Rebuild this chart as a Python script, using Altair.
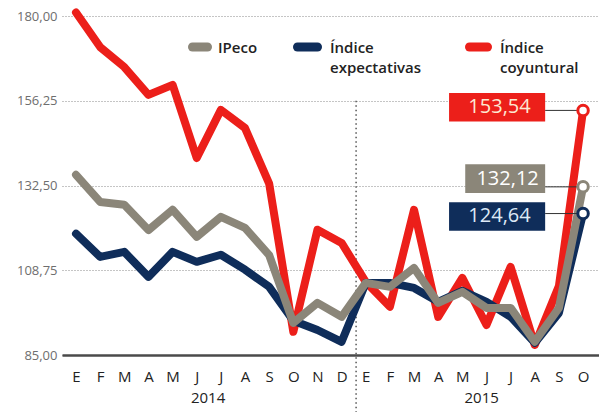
import altair as alt
import pandas as pd

months = ["E", "F", "M", "A", "M", "J", "J", "A", "S", "O", "N", "D",
          "E", "F", "M", "A", "M", "J", "J", "A", "S", "O"]
ipeco = [135.5, 127.9, 127.1, 120.0, 125.7, 118.1, 123.7, 120.6, 113.0, 94.0, 99.6, 95.7,
         105.2, 104.1, 109.4, 99.6, 102.7, 98.2, 98.2, 88.7, 98.2, 132.12]
expectativas = [119.0, 112.5, 113.9, 106.9, 113.9, 111.1, 113.1, 108.9, 104.1, 94.6, 92.0, 88.7,
                105.2, 105.2, 103.8, 99.9, 103.0, 99.9, 95.7, 88.4, 96.8, 124.64]
coyuntural = [181.0, 171.3, 165.7, 157.9, 160.7, 140.2, 153.7, 148.6, 133.0, 91.5, 120.1, 116.4,
              105.5, 98.5, 125.7, 95.7, 106.6, 93.4, 109.7, 87.8, 104.3, 153.54]
years = ["2014", "2015"]
series_names = ["IPeco", "Índice expectativas", "Índice coyuntural"]
y_ticks = [85, 108.75, 132.5, 156.25, 180]

colors = {"IPeco": "#8b8679", "Índice expectativas": "#0f2d5a", "Índice coyuntural": "#ec1f1a"}
label_text_color = {"IPeco": "#ffffff", "Índice expectativas": "#dde9f6", "Índice coyuntural": "#fde8d2"}

rows = []
for name, vals in zip(series_names, [ipeco, expectativas, coyuntural]):
    for i, v in enumerate(vals):
        rows.append({"idx": i, "month": months[i], "series": name, "value": v})
df = pd.DataFrame(rows)

last = len(months) - 1
ends = df[df["idx"] == last].copy()
# annotation box geometry (style, not data)
box_left = {"IPeco": 4.88, "Índice expectativas": 5.55, "Índice coyuntural": 5.55}
box_dy = {"IPeco": 2.3, "Índice expectativas": -0.8, "Índice coyuntural": 0.9}
ends["bx1"] = ends["idx"] - ends["series"].map(box_left)
ends["bx2"] = ends["idx"] - 1.57
ends["by1"] = ends["value"] + ends["series"].map(box_dy) - 4.0
ends["by2"] = ends["value"] + ends["series"].map(box_dy) + 4.0
ends["bxc"] = (ends["bx1"] + ends["bx2"]) / 2 + 0.1
ends["byc"] = ends["value"] + ends["series"].map(box_dy)
ends["label"] = ends["value"].map(lambda v: f"{v:.2f}".replace(".", ","))

year_df = pd.DataFrame({"year": years, "pos": [5.47, 16.8]})

FONT = "Open Sans"
W, H = 537, 339
xscale = alt.Scale(domain=[-0.58, 21.66], nice=False, zero=False)
yscale = alt.Scale(domain=[85, 180], nice=False, zero=False)

month_arr = "[" + ",".join(f"'{m}'" for m in months) + "]"

x_axis = alt.Axis(values=list(range(len(months))), labelExpr=f"{month_arr}[datum.value]",
                  ticks=False, grid=False, domain=True, domainColor="#4a4a4a", domainWidth=2.5,
                  labelFont=FONT, labelFontSize=15, labelFontWeight=500, labelColor="#222222",
                  labelPadding=14, title=None, labelFlush=False, labelOverlap=False)
y_axis = alt.Axis(values=y_ticks, labelExpr="replace(format(datum.value, '.2f'), '.', ',')",
                  ticks=False, domain=False, grid=True, gridColor="#8a8a8a", gridDash=[1, 2],
                  gridWidth=1, labelFont=FONT, labelFontSize=13, labelColor="#6e6e6e",
                  labelPadding=5, title=None)


def X(field):
    return alt.X(field, type="quantitative", scale=xscale, axis=x_axis)


def Y(field):
    return alt.Y(field, type="quantitative", scale=yscale, axis=y_axis)


divider = alt.Chart(pd.DataFrame({"pos": [11.6], "top": [156.25]})).mark_rule(
    color="#555555", strokeDash=[1.5, 3], strokeWidth=1.5
).encode(x=X("pos"), y=Y("top"), y2=alt.value(396))


def line_layer(name):
    return alt.Chart(df[df["series"] == name]).mark_line(
        strokeWidth=8, strokeJoin="round", strokeCap="round", color=colors[name], clip=False
    ).encode(x=X("idx"), y=Y("value"))


connectors = alt.Chart(ends).mark_rule(color="#333333", strokeWidth=1).encode(
    x=X("bx2"), x2="idx:Q", y=Y("value")
)

label_layers = []
for name in series_names:
    sub = ends[ends["series"] == name]
    label_layers.append(
        alt.Chart(sub).mark_rect(color=colors[name]).encode(
            x=X("bx1"), x2="bx2:Q", y=Y("by1"), y2="by2:Q")
    )
    label_layers.append(
        alt.Chart(sub).mark_text(font=FONT, fontSize=20, fontWeight=500, baseline="middle",
                                 align="center", color=label_text_color[name]).encode(
            x=X("bxc"), y=Y("byc"), text="label:N")
    )

endpoint_layers = []
for name in series_names:
    sub = ends[ends["series"] == name]
    endpoint_layers.append(
        alt.Chart(sub).mark_point(shape="circle", size=110, strokeWidth=3, filled=False,
                                  fill="white", fillOpacity=1, opacity=1,
                                  stroke=colors[name]).encode(x=X("idx"), y=Y("value"))
    )

year_text = alt.Chart(year_df).mark_text(font=FONT, fontSize=15, fontWeight=500, color="#222222",
                                         baseline="middle").encode(
    x=X("pos"), y=alt.value(382), text="year:N"
)

# manual legend
legend_layers = []
leg_pos = [(130.5, 145.5, 156, ["IPeco"]),
           (235.5, 255.5, 268, ["Índice", "expectativas"]),
           (407.5, 425.5, 438, ["Índice", "coyuntural"])]
for name, (sx1, sx2, tx, lines) in zip(series_names, leg_pos):
    legend_layers.append(
        alt.Chart(pd.DataFrame({"s": [name]})).mark_rule(
            strokeWidth=9, strokeCap="round", color=colors[name]
        ).encode(x=alt.value(sx1), x2=alt.value(sx2), y=alt.value(31))
    )
    legend_layers.append(
        alt.Chart(pd.DataFrame({"s": [name]})).mark_text(
            text=lines if len(lines) > 1 else lines[0], font=FONT, fontSize=15, fontWeight=600,
            color="#222222", align="left", baseline="alphabetic", lineHeight=20
        ).encode(x=alt.value(tx), y=alt.value(37))
    )

chart = alt.layer(
    divider,
    line_layer("Índice coyuntural"), line_layer("Índice expectativas"), line_layer("IPeco"),
    connectors, *label_layers, *endpoint_layers, year_text, *legend_layers
).properties(
    width=W, height=H, autosize=alt.AutoSizeParams(type="none"),
    padding={"left": 62, "top": 16, "right": 0, "bottom": 57},
    background="#ffffff"
).configure_view(stroke=None)

chart.save("out.html", embed_options={"renderer": "svg", "actions": False})
